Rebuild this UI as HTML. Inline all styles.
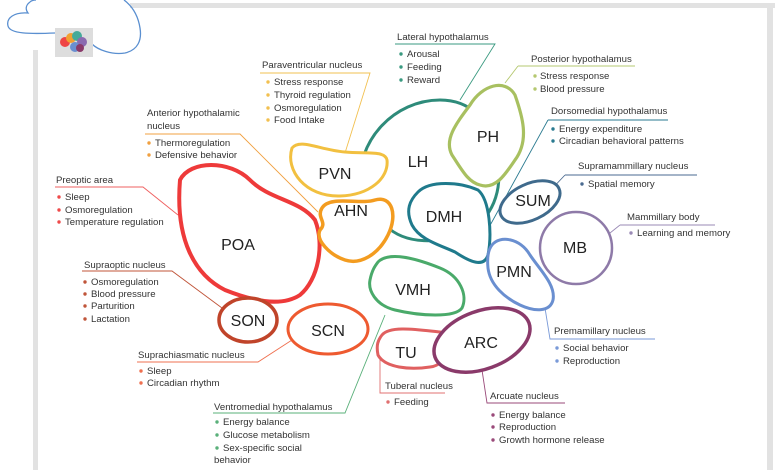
<!DOCTYPE html>
<html><head><meta charset="utf-8"><style>
html,body{margin:0;padding:0;background:#fff;}
svg{display:block;font-family:"Liberation Sans",Arial,sans-serif;}
.t{font-size:9.6px;fill:#333;}
.n{font-size:16px;fill:#222;}
</style></head><body>
<svg width="780" height="470" viewBox="0 0 780 470" xmlns="http://www.w3.org/2000/svg">
<rect x="0" y="0" width="780" height="470" fill="#fff"/>
<!-- frame -->
<rect x="33" y="50" width="5" height="420" fill="#e2e2e2"/>
<rect x="130" y="3" width="645" height="5" fill="#e2e2e2"/>
<rect x="767" y="3" width="6" height="467" fill="#e2e2e2"/>
<!-- cloud -->
<path d="M30 2 C26 5 25 9 28 13 C14 12 6 18 8 26 C10 34 30 34 55 33 M92 44 C98 50 112 55 125 53 C138 50 142 40 140 28 C138 15 132 6 124 0" fill="none" stroke="#5a8fd0" stroke-width="1.3"/>
<path d="M30 2 C32 0 34 0 36 0" fill="none" stroke="#5a8fd0" stroke-width="1.3"/>
<rect x="55" y="28" width="38" height="29" fill="#ddd"/>
<circle cx="65" cy="42" r="5" fill="#e44"/><circle cx="71" cy="38" r="5" fill="#f2a030"/><circle cx="77" cy="36" r="5" fill="#4a9"/><circle cx="82" cy="42" r="5" fill="#8a6ab0"/><circle cx="75" cy="47" r="5" fill="#6a8fd0"/><circle cx="80" cy="48" r="4" fill="#8a3a6a"/>

<!-- leader lines -->
<g fill="none" stroke-width="0.9">
<path d="M395 44 H495 L460 100" stroke="#3a9a80"/>
<path d="M518 66 H635 M518 66 L505 83" stroke="#b5c870"/>
<path d="M548 120 H668 M548 120 L482 240" stroke="#2a7a90"/>
<path d="M565 175 H697 M565 175 L548 193" stroke="#4a6a90"/>
<path d="M620 225 H715 M620 225 L610 233" stroke="#9a8ab5"/>
<path d="M545 308 L550 339 H655" stroke="#7a9ad8"/>
<path d="M482 370 L487 403 H565" stroke="#9a4a7a"/>
<path d="M380 355 V393 H445" stroke="#e07070"/>
<path d="M213 413 H345 L385 315" stroke="#5ab07a"/>
<path d="M137 362 H258 L292 340" stroke="#ef7050"/>
<path d="M82 271 H172 L222 308" stroke="#c0553a"/>
<path d="M55 187 H143 L178 215" stroke="#ef6060"/>
<path d="M145 134 H240 L318 212" stroke="#f0a040"/>
<path d="M260 73 H370 L345 153" stroke="#f2c050"/>
</g>

<!-- shapes -->
<g fill="none" stroke-linejoin="round">
<path d="M360 190 C355 140 395 100 440 100 C470 100 490 120 495 150 C505 185 495 215 470 230 C440 245 405 245 385 225" stroke="#2e8b7a" stroke-width="3"/>
<path d="M470 105 C482 85 505 78 515 95 C522 115 530 140 515 160 C505 175 495 190 480 185 C468 182 462 170 452 155 C444 140 455 125 470 105 Z" fill="#fff" stroke="#a8c060" stroke-width="3.2"/>
<path d="M292 148 C300 138 320 150 345 152 C365 154 385 150 387 160 C389 178 370 195 340 196 C305 197 285 170 292 148 Z" fill="#fff" stroke="#f2c040" stroke-width="3"/>
<path d="M180 180 C190 160 230 160 250 180 C270 200 300 200 315 220 C325 245 318 280 300 295 C280 308 250 300 225 290 C195 275 175 240 180 180 Z" fill="#fff" stroke="#ee3a3a" stroke-width="4"/>
<path d="M322 208 C330 195 360 205 375 200 C392 195 398 215 388 235 C378 255 360 265 345 260 C330 255 315 240 320 230 C328 222 316 218 322 208 Z" fill="#fff" stroke="#f39c20" stroke-width="3.5"/>
<path d="M418 192 C430 180 460 182 478 190 C490 200 492 235 488 255 C484 268 470 262 455 252 C440 245 420 240 412 225 C405 210 410 200 418 192 Z" fill="#fff" stroke="#1f7a8c" stroke-width="3"/>
<ellipse cx="530" cy="202" rx="32" ry="18" transform="rotate(-25 530 202)" fill="#fff" stroke="#3f6a8c" stroke-width="3"/>
<circle cx="576" cy="248" r="36" fill="#fff" stroke="#8e7aa8" stroke-width="2.5"/>
<path d="M492 245 C500 235 520 238 530 255 C540 270 556 285 553 300 C550 312 535 312 520 305 C505 298 490 285 488 268 C487 258 488 250 492 245 Z" fill="#fff" stroke="#6a8fd0" stroke-width="3"/>
<path d="M378 262 C390 250 420 260 440 268 C460 276 468 295 462 308 C455 318 420 316 395 310 C375 305 368 290 370 280 C372 270 375 266 378 262 Z" fill="#fff" stroke="#4aaa6a" stroke-width="3"/>
<path d="M382 335 C390 325 420 330 440 332 C455 334 450 365 430 367 C410 370 385 368 378 355 C376 345 378 340 382 335 Z" fill="#fff" stroke="#e06060" stroke-width="3"/>
<ellipse cx="482" cy="340" rx="50" ry="29" transform="rotate(-20 482 340)" fill="#fff" stroke="#8a3a6a" stroke-width="3.5"/>
<ellipse cx="248" cy="320" rx="29" ry="22" fill="#fff" stroke="#c0442a" stroke-width="3.5"/>
<ellipse cx="328" cy="329" rx="40" ry="25" fill="#fff" stroke="#ee5a30" stroke-width="3"/>
</g>

<!-- node labels -->
<g class="n" text-anchor="middle">
<text x="418" y="167">LH</text>
<text x="488" y="142">PH</text>
<text x="335" y="179">PVN</text>
<text x="238" y="250">POA</text>
<text x="351" y="216">AHN</text>
<text x="444" y="222">DMH</text>
<text x="533" y="206">SUM</text>
<text x="575" y="253">MB</text>
<text x="514" y="277">PMN</text>
<text x="413" y="295">VMH</text>
<text x="406" y="358">TU</text>
<text x="481" y="348">ARC</text>
<text x="248" y="326">SON</text>
<text x="328" y="336">SCN</text>
</g>

<!-- text labels -->
<g class="t">
<text x="397" y="40">Lateral hypothalamus</text>
<text x="407" y="57">Arousal</text><text x="407" y="70">Feeding</text><text x="407" y="83">Reward</text>
<text x="531" y="62">Posterior hypothalamus</text>
<text x="540" y="79">Stress response</text><text x="540" y="92">Blood pressure</text>
<text x="551" y="114">Dorsomedial hypothalamus</text>
<text x="559" y="132">Energy expenditure</text><text x="559" y="144">Circadian behavioral patterns</text>
<text x="578" y="169">Supramammillary nucleus</text>
<text x="588" y="187">Spatial memory</text>
<text x="627" y="220">Mammillary body</text>
<text x="637" y="236">Learning and memory</text>
<text x="554" y="334">Premamillary nucleus</text>
<text x="563" y="351">Social behavior</text><text x="563" y="364">Reproduction</text>
<text x="490" y="399">Arcuate nucleus</text>
<text x="499" y="418">Energy balance</text><text x="499" y="430">Reproduction</text><text x="499" y="443">Growth hormone release</text>
<text x="385" y="389">Tuberal nucleus</text>
<text x="394" y="405">Feeding</text>
<text x="214" y="410">Ventromedial hypothalamus</text>
<text x="223" y="425">Energy balance</text><text x="223" y="438">Glucose metabolism</text><text x="223" y="451">Sex-specific social</text><text x="214" y="463">behavior</text>
<text x="138" y="358">Suprachiasmatic nucleus</text>
<text x="147" y="374">Sleep</text><text x="147" y="386">Circadian rhythm</text>
<text x="84" y="268">Supraoptic nucleus</text>
<text x="91" y="285">Osmoregulation</text><text x="91" y="297">Blood pressure</text><text x="91" y="309">Parturition</text><text x="91" y="322">Lactation</text>
<text x="56" y="183">Preoptic area</text>
<text x="65" y="200">Sleep</text><text x="65" y="213">Osmoregulation</text><text x="65" y="225">Temperature regulation</text>
<text x="147" y="116">Anterior hypothalamic</text><text x="147" y="129">nucleus</text>
<text x="155" y="146">Thermoregulation</text><text x="155" y="158">Defensive behavior</text>
<text x="262" y="68">Paraventricular nucleus</text>
<text x="274" y="85">Stress response</text><text x="274" y="98">Thyroid regulation</text><text x="274" y="111">Osmoregulation</text><text x="274" y="123">Food Intake</text>
</g>

<!-- bullets -->
<g>
<g fill="#3a9a80"><circle cx="401" cy="54" r="1.7"/><circle cx="401" cy="67" r="1.7"/><circle cx="401" cy="80" r="1.7"/></g>
<g fill="#b5c870"><circle cx="535" cy="76" r="1.7"/><circle cx="535" cy="89" r="1.7"/></g>
<g fill="#2a7a90"><circle cx="553" cy="129" r="1.7"/><circle cx="553" cy="141" r="1.7"/></g>
<g fill="#4a6a90"><circle cx="582" cy="184" r="1.7"/></g>
<g fill="#9a8ab5"><circle cx="631" cy="233" r="1.7"/></g>
<g fill="#7a9ad8"><circle cx="557" cy="348" r="1.7"/><circle cx="557" cy="361" r="1.7"/></g>
<g fill="#9a4a7a"><circle cx="493" cy="415" r="1.7"/><circle cx="493" cy="427" r="1.7"/><circle cx="493" cy="440" r="1.7"/></g>
<g fill="#e07070"><circle cx="388" cy="402" r="1.7"/></g>
<g fill="#5ab07a"><circle cx="217" cy="422" r="1.7"/><circle cx="217" cy="435" r="1.7"/><circle cx="217" cy="448" r="1.7"/></g>
<g fill="#ef7050"><circle cx="141" cy="371" r="1.7"/><circle cx="141" cy="383" r="1.7"/></g>
<g fill="#c0553a"><circle cx="85" cy="282" r="1.7"/><circle cx="85" cy="294" r="1.7"/><circle cx="85" cy="306" r="1.7"/><circle cx="85" cy="319" r="1.7"/></g>
<g fill="#ef4a4a"><circle cx="59" cy="197" r="1.7"/><circle cx="59" cy="210" r="1.7"/><circle cx="59" cy="222" r="1.7"/></g>
<g fill="#f0a040"><circle cx="149" cy="143" r="1.7"/><circle cx="149" cy="155" r="1.7"/></g>
<g fill="#f2c050"><circle cx="268" cy="82" r="1.7"/><circle cx="268" cy="95" r="1.7"/><circle cx="268" cy="108" r="1.7"/><circle cx="268" cy="120" r="1.7"/></g>
</g>
</svg>
</body></html>
